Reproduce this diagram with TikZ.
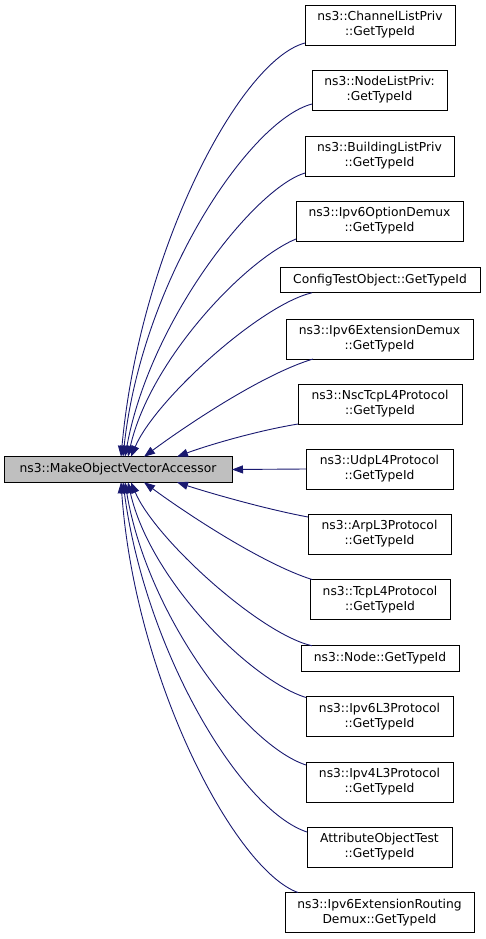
\documentclass[tikz,border=0pt]{standalone}
\usepackage{fontspec}
\setmainfont{DejaVu Sans}
\usetikzlibrary{arrows.meta}
\definecolor{edgeblue}{HTML}{191970}
\definecolor{mainfill}{HTML}{BFBFBF}
\begin{document}
\begin{tikzpicture}[x=1pt,y=-1pt,
  box/.style={draw=black, line width=0.9pt, fill=white, inner sep=0pt, outer sep=0pt,
    align=center, font=\fontsize{12.3}{15}\selectfont, minimum height=40pt},
  onebox/.style={box, minimum height=25.5pt},
  conn/.style={draw=edgeblue, line width=0.9pt, -{Triangle[length=11pt,width=8pt]}}]
\useasboundingbox (0,0) rectangle (485,939);

\node[onebox, fill=mainfill, minimum width=228pt] (main) at (118,469.5) {ns3::MakeObjectVectorAccessor};

\node[box, minimum width=150pt] (ch) at (380,25) {ns3::ChannelListPriv\\::GetTypeId};
\node[box, minimum width=135pt] (nl) at (379.5,90) {ns3::NodeListPriv:\\:GetTypeId};
\node[box, minimum width=149pt] (bl) at (379.5,156) {ns3::BuildingListPriv\\::GetTypeId};
\node[box, minimum width=167pt] (io) at (379.5,221) {ns3::Ipv6OptionDemux\\::GetTypeId};
\node[onebox, minimum width=200pt] (ct) at (380,280) {ConfigTestObject::GetTypeId};
\node[box, minimum width=187pt] (ed) at (379.5,339) {ns3::Ipv6ExtensionDemux\\::GetTypeId};
\node[box, minimum width=164pt] (ns) at (380,404) {ns3::NscTcpL4Protocol\\::GetTypeId};
\node[box, minimum width=147pt] (udp) at (379.5,469) {ns3::UdpL4Protocol\\::GetTypeId};
\node[box, minimum width=143pt] (arp) at (379.5,534) {ns3::ArpL3Protocol\\::GetTypeId};
\node[box, minimum width=140pt] (tcp) at (380,599.5) {ns3::TcpL4Protocol\\::GetTypeId};
\node[onebox, minimum width=158pt] (nd) at (380,658.5) {ns3::Node::GetTypeId};
\node[box, minimum width=147pt] (v6) at (379.5,716.5) {ns3::Ipv6L3Protocol\\::GetTypeId};
\node[box, minimum width=147pt] (v4) at (379.5,782) {ns3::Ipv4L3Protocol\\::GetTypeId};
\node[box, minimum width=145pt] (ao) at (379.5,847) {AttributeObjectTest\\::GetTypeId};
\node[box, minimum width=189pt] (er) at (379.5,912.5) {ns3::Ipv6ExtensionRouting\\Demux::GetTypeId};

% upper edges
\draw[conn] ([yshift=2pt]ch.south west) .. controls (240,60) and (140,250) .. ([xshift=117pt]main.north west);
\draw[conn] ([yshift=6pt]nl.south west) .. controls (250,120) and (142,280) .. ([xshift=119pt]main.north west);
\draw[conn] ([yshift=3pt]bl.south west) .. controls (255,188) and (150,320) .. ([xshift=121pt]main.north west);
\draw[conn] ([yshift=2pt]io.south west) .. controls (245,260) and (150,360) .. ([xshift=124pt]main.north west);
\draw[conn] ([xshift=32pt]ct.south west) .. controls (260,305) and (155,400) .. ([xshift=127pt]main.north west);
\draw[conn] ([xshift=27pt]ed.south west) .. controls (260,375) and (180,430) .. ([xshift=140pt]main.north west);
\draw[conn] (ns.south west) .. controls (250,432) and (200,448) .. ([xshift=173pt]main.north west);
% horizontal
\draw[conn] (udp.west) -- (main.east);
% lower edges
\draw[conn] ([yshift=-3pt]arp.north west) .. controls (260,508) and (200,490) .. ([xshift=173pt]main.south west);
\draw[conn] ([xshift=2pt]tcp.north west) .. controls (260,563) and (180,509) .. ([xshift=140pt]main.south west);
\draw[conn] ([xshift=11pt]nd.north west) .. controls (260,634) and (155,539) .. ([xshift=127pt]main.south west);
\draw[conn] ([yshift=-1pt]v6.north west) .. controls (250,680) and (150,580) .. ([xshift=124pt]main.south west);
\draw[conn] ([yshift=-3pt]v4.north west) .. controls (245,745) and (147,615) .. ([xshift=121pt]main.south west);
\draw[conn] ([yshift=-5pt]ao.north west) .. controls (240,810) and (145,650) .. ([xshift=119pt]main.south west);
\draw[conn] ([xshift=13pt]er.north west) .. controls (235,870) and (135,680) .. ([xshift=117pt]main.south west);
\end{tikzpicture}
\end{document}
